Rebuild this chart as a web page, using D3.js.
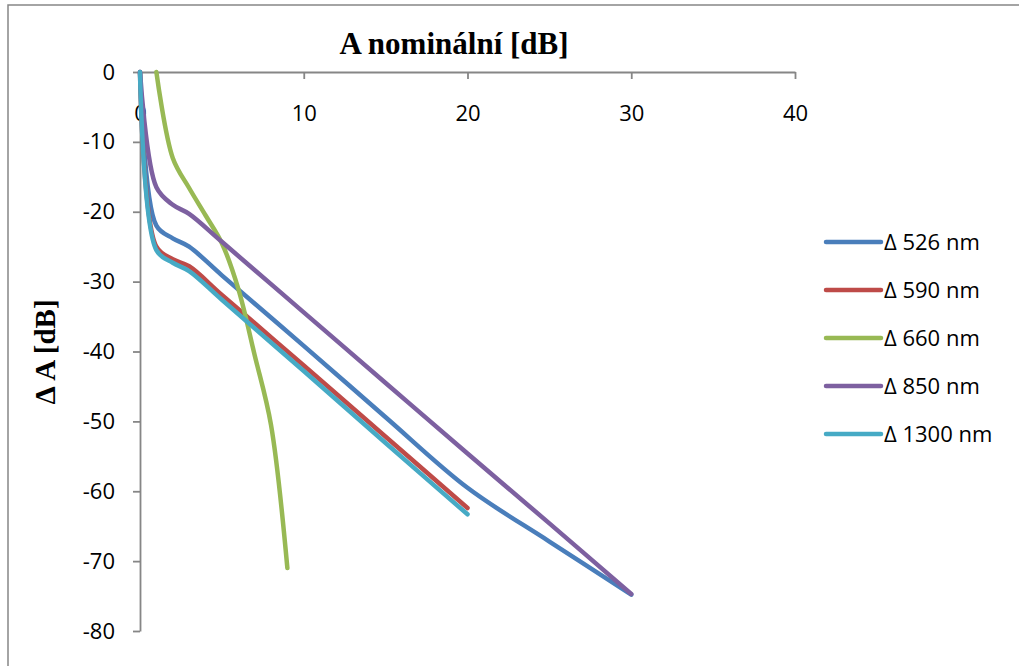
<!DOCTYPE html>
<html><head><meta charset="utf-8">
<script src="https://cdn.jsdelivr.net/npm/d3@7"></script>
<style>
html,body{margin:0;padding:0;background:#fff;}
svg{display:block;}
</style>
</head><body>
<svg id="c" width="1019" height="666"></svg>
<script>
// ---- data ----
const seriesNames = ["Δ 526 nm", "Δ 590 nm", "Δ 660 nm", "Δ 850 nm", "Δ 1300 nm"];
const x526 = [0, 1, 2, 3, 5, 10, 15, 20, 25, 30];
const y526 = [0, -22, -23.8, -25, -29.1, -39.2, -49.4, -59.5, -67.2, -74.8];
const x590 = [0, 1, 2, 3, 5, 10, 15, 20];
const y590 = [0, -25, -26.8, -27.8, -31.9, -42.0, -52.2, -62.4];
const x660 = [1, 2, 3, 4, 5, 6, 7, 8, 9];
const y660 = [0, -12.3, -16.6, -20.5, -24.5, -31, -40.5, -50.5, -71];
const x850 = [0, 1, 2, 3, 5, 10, 15, 20, 25, 30];
const y850 = [0, -16.5, -19, -20.3, -24.3, -34.4, -44.5, -54.6, -64.6, -74.7];
const x1300 = [0, 1, 2, 3, 5, 10, 15, 20];
const y1300 = [0, -25.5, -27.3, -28.5, -32.6, -42.8, -53.1, -63.3];
const xTicks = [0, 10, 20, 30, 40];
const yTicks = [0, -10, -20, -30, -40, -50, -60, -70, -80];
const colors = ["#4A7EBB", "#BE4B48", "#98B954", "#7D60A0", "#46AAC5"];
const titleX = "A nominální [dB]";
const titleY = "Δ A [dB]";

const seriesX = [x526, x590, x660, x850, x1300];
const seriesY = [y526, y590, y660, y850, y1300];

const svg = d3.select("#c");
const axisColor = "#868686";
const labelFont = "'Open Sans', sans-serif";
const titleFont = "'Liberation Serif', 'Times New Roman', serif";
const fmt = d => String(d);

// frame
svg.append("rect").attr("x", 8).attr("y", 5).attr("width", 1030).attr("height", 700)
  .attr("fill", "#fff").attr("stroke", axisColor).attr("stroke-width", 1.5);

const x = d3.scaleLinear().domain([0, 40]).range([140, 795]);
const y = d3.scaleLinear().domain([-80, 0]).range([631, 72]);

// x axis at y=0 (top)
const gx = svg.append("g").attr("transform", `translate(0,${y(0)})`)
  .call(d3.axisBottom(x).tickValues(xTicks).tickSize(7).tickSizeOuter(0).tickPadding(26).tickFormat(fmt));
// y axis
const gy = svg.append("g").attr("transform", `translate(${x(0)},0)`)
  .call(d3.axisLeft(y).tickValues(yTicks).tickSize(7).tickSizeOuter(0).tickPadding(18).tickFormat(fmt));

[gx, gy].forEach(g => {
  g.selectAll("path.domain").attr("stroke", axisColor).attr("stroke-width", 1.8);
  g.selectAll(".tick line").attr("stroke", axisColor).attr("stroke-width", 1.8);
  g.selectAll(".tick text").attr("fill", "#000").style("font-family", labelFont).style("font-size", "22px");
});
gx.selectAll(".tick text").attr("dy", "0.71em");

// lines
const line = d3.line().x(d => x(d[0])).y(d => y(d[1])).curve(d3.curveCatmullRom.alpha(0.5));
seriesX.forEach((xs, i) => {
  const pts = xs.map((v, j) => [v, seriesY[i][j]]);
  svg.append("path").datum(pts).attr("d", line)
    .attr("fill", "none").attr("stroke", colors[i]).attr("stroke-width", 4.5)
    .attr("stroke-linecap", "round").attr("stroke-linejoin", "round");
});

// titles
svg.append("text").attr("x", 454).attr("y", 54).attr("text-anchor", "middle")
  .style("font-family", titleFont).style("font-weight", "bold").style("font-size", "31px")
  .text(titleX);
svg.append("text").attr("transform", "translate(55,352) rotate(-90)").attr("text-anchor", "middle")
  .style("font-family", titleFont).style("font-weight", "bold").style("font-size", "29px")
  .text(titleY);

// legend
const legY = d3.scalePoint().domain(seriesNames).range([242, 434]);
const leg = svg.append("g");
seriesNames.forEach((n, i) => {
  const yy = legY(n);
  leg.append("line").attr("x1", 826).attr("x2", 881).attr("y1", yy).attr("y2", yy)
    .attr("stroke", colors[i]).attr("stroke-width", 4.5).attr("stroke-linecap", "round");
  leg.append("text").attr("x", 884).attr("y", yy).attr("dy", "0.35em")
    .style("font-family", labelFont).style("font-size", "22px").text(n);
});
</script>
</body></html>
